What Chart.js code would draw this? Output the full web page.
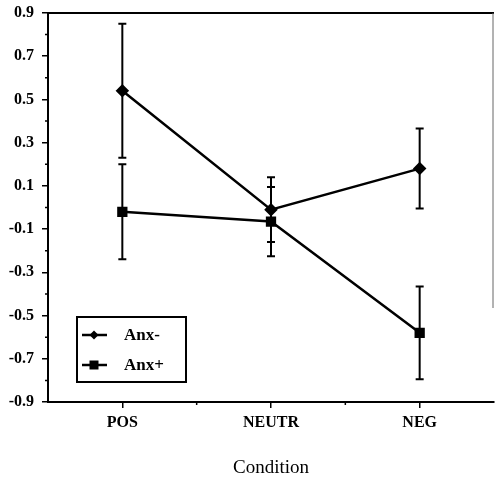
<!DOCTYPE html>
<html>
<head>
<meta charset="utf-8">
<script src="https://cdn.jsdelivr.net/npm/chart.js@4"></script>
<style>
  html, body { margin: 0; padding: 0; background: #fff; }
  #wrap { width: 496px; height: 482px; }
</style>
</head>
<body>
<div id="wrap"><canvas id="graph" width="496" height="482"></canvas></div>
<script>
const categories = ['POS', 'NEUTR', 'NEG'];
const anxMinus = [0.54, -0.01, 0.18];
const anxMinusErr = [0.31, 0.15, 0.185];
const anxPlus = [-0.02, -0.065, -0.58];
const anxPlusErr = [0.22, 0.16, 0.215];
const yTicks = [-0.9, -0.7, -0.5, -0.3, -0.1, 0.1, 0.3, 0.5, 0.7, 0.9];
const errors = [anxMinusErr, anxPlusErr];

const serif = '"Liberation Serif", "DejaVu Serif", serif';

// error bars, extra frame lines, minor ticks
function CreateErrorBarPlugin() {
  return {
    id: 'errorBars',
    afterDatasetsDraw: (chart) => {
      const ctx = chart.ctx;
      const xAxis = chart.scales['x'];
      const yAxis = chart.scales['y'];
      ctx.save();
      ctx.strokeStyle = '#000';
      ctx.lineWidth = 2;
      chart.data.datasets.forEach((ds, i) => {
        ds.data.forEach((v, j) => {
          const x = xAxis.getPixelForValue(j);
          const top = yAxis.getPixelForValue(v + errors[i][j]);
          const bot = yAxis.getPixelForValue(v - errors[i][j]);
          ctx.beginPath();
          ctx.moveTo(x, top); ctx.lineTo(x, bot);
          ctx.moveTo(x - 4, top); ctx.lineTo(x + 4, top);
          ctx.moveTo(x - 4, bot); ctx.lineTo(x + 4, bot);
          ctx.stroke();
        });
      });
      ctx.restore();
    },
    afterDraw: (chart) => {
      const ctx = chart.ctx;
      const area = chart.chartArea;
      const xAxis = chart.scales['x'];
      const yAxis = chart.scales['y'];
      ctx.save();
      // top border
      ctx.strokeStyle = '#000';
      ctx.lineWidth = 2;
      ctx.beginPath();
      ctx.moveTo(area.left, area.top);
      ctx.lineTo(area.right, area.top);
      ctx.stroke();
      // right border (faint in the scan)
      ctx.strokeStyle = '#666';
      ctx.lineWidth = 1;
      ctx.beginPath();
      ctx.moveTo(area.right - 1, area.top);
      ctx.lineTo(area.right - 1, area.top + 295);
      ctx.stroke();
      // minor ticks
      ctx.strokeStyle = '#000';
      ctx.lineWidth = 1.5;
      ctx.beginPath();
      for (let k = 0; k < yTicks.length - 1; k++) {
        const y = yAxis.getPixelForValue((yTicks[k] + yTicks[k + 1]) / 2);
        ctx.moveTo(area.left - 3, y); ctx.lineTo(area.left, y);
      }
      for (let k = 0; k < categories.length - 1; k++) {
        const x = (xAxis.getPixelForValue(k) + xAxis.getPixelForValue(k + 1)) / 2;
        ctx.moveTo(x, area.bottom); ctx.lineTo(x, area.bottom + 3);
      }
      ctx.stroke();

      // legend box
      const bx = area.left + 29;
      const by = area.bottom - 85;
      const bw = 109;
      const bh = 65;
      ctx.fillStyle = '#fff';
      ctx.fillRect(bx, by, bw, bh);
      ctx.lineWidth = 2;
      ctx.strokeRect(bx, by, bw, bh);
      ctx.font = 'bold 17px ' + serif;
      ctx.textBaseline = 'middle';
      ctx.fillStyle = '#000';
      chart.data.datasets.forEach((ds, i) => {
        const y = by + 18 + i * 30;
        ctx.lineWidth = 2.5;
        ctx.beginPath();
        ctx.moveTo(bx + 5, y); ctx.lineTo(bx + 30, y);
        ctx.stroke();
        const mx = bx + 17;
        ctx.beginPath();
        if (ds.pointStyle === 'rectRot') {
          ctx.moveTo(mx, y - 4.5); ctx.lineTo(mx + 4.5, y);
          ctx.lineTo(mx, y + 4.5); ctx.lineTo(mx - 4.5, y);
          ctx.closePath();
        } else {
          ctx.rect(mx - 4.5, y - 4.5, 9, 9);
        }
        ctx.fill();
        ctx.fillText(ds.label, bx + 47, y + 1);
      });
      ctx.restore();
    }
  };
}

function zeroPadding(scale) {
  scale.paddingLeft = 0;
  scale.paddingRight = 0;
  scale.paddingTop = 0;
  scale.paddingBottom = 0;
}

function CreateChartConfig() {
  return {
    type: 'line',
    data: {
      labels: categories,
      datasets: [
        {
          label: 'Anx-',
          data: anxMinus,
          borderColor: '#000',
          backgroundColor: '#000',
          borderWidth: 2.5,
          pointStyle: 'rectRot',
          pointRadius: 5,
          fill: false
        },
        {
          label: 'Anx+',
          data: anxPlus,
          borderColor: '#000',
          backgroundColor: '#000',
          borderWidth: 2.5,
          pointStyle: 'rect',
          pointRadius: 5.5,
          fill: false
        }
      ]
    },
    options: {
      responsive: false,
      animation: false,
      layout: { autoPadding: false, padding: { top: 13, right: 2, left: 0, bottom: 0 } },
      plugins: {
        legend: { display: false },
        tooltip: { enabled: false }
      },
      scales: {
        x: {
          offset: true,
          border: { color: '#000', width: 2 },
          grid: { drawOnChartArea: false, drawTicks: true, tickLength: 6, color: '#000', lineWidth: 1.5 },
          ticks: { color: '#000', padding: 5, font: { family: serif, size: 16, weight: 'bold' } },
          title: {
            display: true,
            text: 'Condition',
            color: '#000',
            padding: { top: 0, bottom: 3 },
            font: { family: serif, size: 19 }
          },
          afterFit: (scale) => {
            scale.height = 80;
            zeroPadding(scale);
          }
        },
        y: {
          min: -0.9,
          max: 0.9,
          border: { color: '#000', width: 2 },
          grid: { drawOnChartArea: false, drawTicks: true, tickLength: 6, color: '#000', lineWidth: 1.5 },
          afterBuildTicks: (scale) => { scale.ticks = yTicks.map(v => ({ value: v })); },
          ticks: {
            color: '#000',
            padding: 8,
            font: { family: serif, size: 16, weight: 'bold' },
            callback: (v) => v.toFixed(1)
          },
          afterFit: (scale) => {
            scale.width = 48;
            zeroPadding(scale);
          }
        }
      }
    },
    plugins: [CreateErrorBarPlugin()]
  };
}

new Chart(document.getElementById('graph'), CreateChartConfig());
</script>
</body>
</html>
